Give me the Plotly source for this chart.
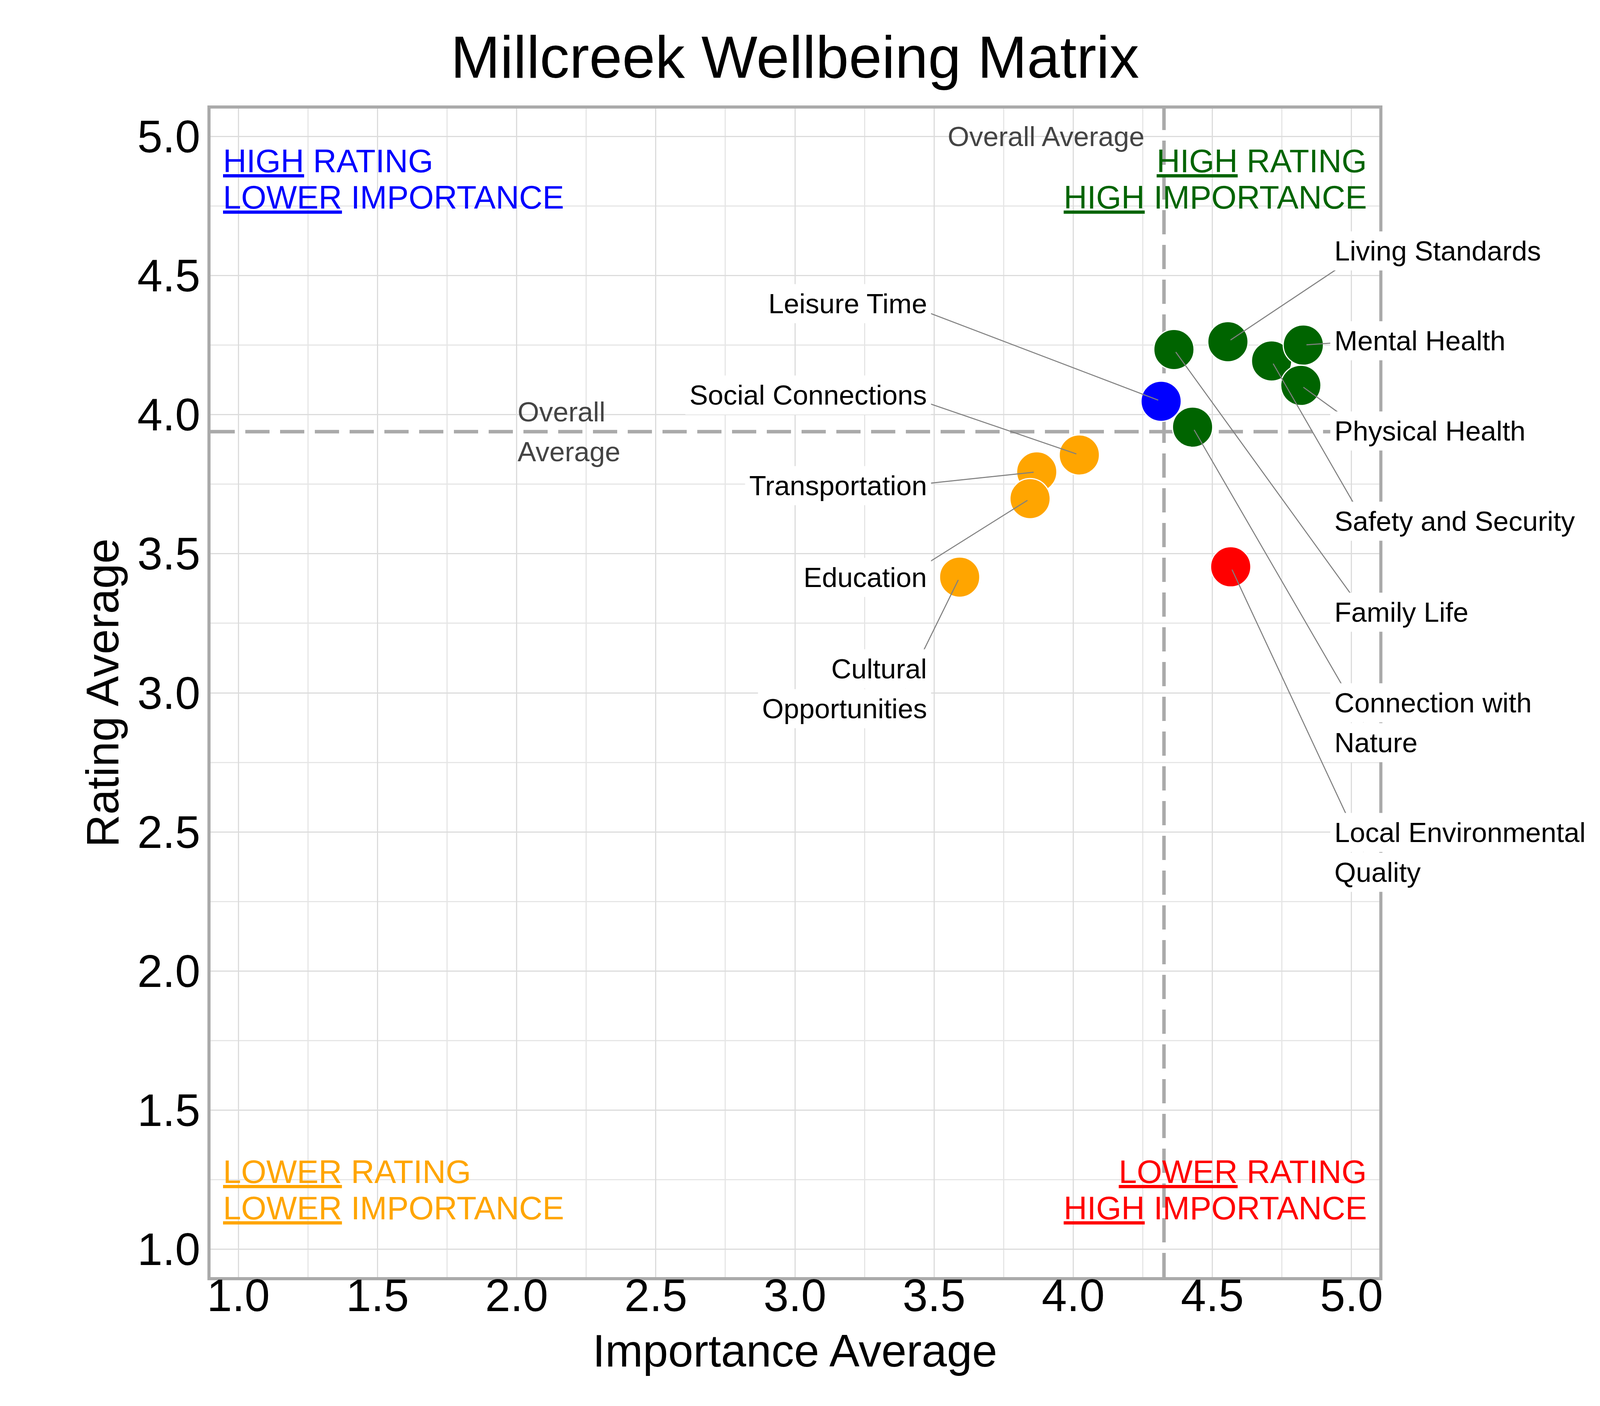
import numpy as np
import plotly.graph_objects as go

# wellbeing areas, importance (x) and rating (y) averages
areas = [
    "Living Standards", "Safety and Security", "Mental Health", "Physical Health",
    "Family Life", "Connection with Nature", "Local Environmental Quality",
    "Leisure Time", "Social Connections", "Transportation", "Education",
    "Cultural Opportunities",
]
importance = [4.556, 4.713, 4.827, 4.818, 4.362, 4.429, 4.566, 4.316, 4.022, 3.869, 3.845, 3.592]
rating = [4.262, 4.193, 4.250, 4.105, 4.234, 3.955, 3.453, 4.048, 3.855, 3.794, 3.698, 3.416]

# label lines and the height of each label box
label_lines = {
    "Connection with Nature": ["Connection with", "Nature"],
    "Local Environmental Quality": ["Local Environmental", "Quality"],
    "Cultural Opportunities": ["Cultural", "Opportunities"],
}
label_y = {
    "Living Standards": 4.588,
    "Mental Health": 4.265,
    "Physical Health": 3.941,
    "Safety and Security": 3.617,
    "Family Life": 3.290,
    "Connection with Nature": 2.892,
    "Local Environmental Quality": 2.426,
    "Leisure Time": 4.399,
    "Social Connections": 4.070,
    "Transportation": 3.744,
    "Education": 3.415,
    "Cultural Opportunities": 3.015,
}
# label box edges and where the leader lines end (hidden under the boxes)
RIGHT_BOX, RIGHT_TAIL = 4.923, 5.045
LEFT_BOX, LEFT_TAIL = 3.49, 3.395
LINE_GAP = 51  # px from the middle of a two-line label to each line

W, H = 4200, 3600

avg_x = np.mean(importance)
avg_y = np.mean(rating)


def quadrant_color(x, y):
    if x >= avg_x and y >= avg_y:
        return "darkgreen"
    if x < avg_x and y >= avg_y:
        return "blue"
    if x < avg_x and y < avg_y:
        return "orange"
    return "red"


colors = [quadrant_color(x, y) for x, y in zip(importance, rating)]

FONT = "Liberation Sans, Arial, sans-serif"

fig = go.Figure()

fig.add_trace(go.Scatter(
    x=importance, y=rating, mode="markers", text=areas,
    marker=dict(size=103, color=colors, line=dict(color="white", width=3)),
    hoverinfo="text", showlegend=False,
))

# overall average lines
avg_line = dict(color="#aaaaaa", width=9, dash="62px,27px")
fig.add_shape(type="line", xref="x", yref="paper", x0=avg_x, x1=avg_x, y0=0, y1=1,
              line=avg_line, layer="below")
fig.add_shape(type="line", xref="paper", yref="y", x0=0, x1=1, y0=avg_y, y1=avg_y,
              line=avg_line, layer="below")

for word, shift in [("Overall", LINE_GAP), ("Average", -LINE_GAP)]:
    fig.add_annotation(x=2.0, y=avg_y, yshift=shift, text=word, showarrow=False,
                       xanchor="left", yanchor="middle",
                       font=dict(size=71, color="#444444"))
fig.add_annotation(x=avg_x, y=5.0, text="Overall Average", showarrow=False,
                   xanchor="right", yanchor="middle", xshift=-48,
                   font=dict(size=71, color="#444444"))

# quadrant captions
quadrants = [
    ("blue", 0.01, "left", ["<u>HIGH</u> RATING", "<u>LOWER</u> IMPORTANCE"], [4.911, 4.781]),
    ("darkgreen", 0.99, "right", ["<u>HIGH</u> RATING", "<u>HIGH</u> IMPORTANCE"], [4.911, 4.781]),
    ("orange", 0.01, "left", ["<u>LOWER</u> RATING", "<u>LOWER</u> IMPORTANCE"], [1.279, 1.148]),
    ("red", 0.99, "right", ["<u>LOWER</u> RATING", "<u>HIGH</u> IMPORTANCE"], [1.279, 1.148]),
]
for color, qx, anchor, lines, ys in quadrants:
    for line, qy in zip(lines, ys):
        fig.add_annotation(x=qx, xref="paper", y=qy, yref="y", text=line,
                           showarrow=False, xanchor=anchor, yanchor="middle",
                           font=dict(size=83, color=color))

# leader lines first, then the white label boxes on top of their ends
for name, x, y in zip(areas, importance, rating):
    tail = RIGHT_TAIL if x >= avg_x else LEFT_TAIL
    fig.add_annotation(
        x=x, y=y, ax=tail, ay=label_y[name], axref="x", ayref="y",
        text="", showarrow=True, arrowhead=0, arrowwidth=2.7, arrowcolor="gray",
        standoff=8, font=dict(size=1),
    )
for name, x in zip(areas, importance):
    right_side = x >= avg_x
    lines = label_lines.get(name, [name])
    if len(lines) == 1:
        shifts = [0]
    else:
        shifts = [LINE_GAP, -LINE_GAP]
    for line, shift in zip(lines, shifts):
        fig.add_annotation(
            x=RIGHT_BOX if right_side else LEFT_BOX, y=label_y[name], yshift=shift,
            text=line, showarrow=False,
            xanchor="left" if right_side else "right", yanchor="middle",
            bgcolor="white", borderpad=10,
            font=dict(size=71, color="black"),
        )

axis_common = dict(
    range=[0.9, 5.1], tick0=1, dtick=0.5, tickformat=".1f",
    showline=True, linecolor="#aaaaaa", linewidth=8, mirror=True,
    showgrid=True, gridcolor="#dcdcdc", gridwidth=3,
    minor=dict(tick0=1, dtick=0.25, showgrid=True, gridcolor="#e6e6e6", gridwidth=2.5),
    zeroline=False, ticks="",
    tickfont=dict(size=116, color="black"),
)

fig.update_layout(
    width=W, height=H,
    title=dict(text="Millcreek Wellbeing Matrix", x=0.5, xref="paper", xanchor="center",
               y=1 - 137.5 / H, yref="container", yanchor="middle",
               font=dict(size=152, color="black")),
    font=dict(family=FONT, color="black"),
    plot_bgcolor="white", paper_bgcolor="white",
    margin=dict(l=531, r=677, t=270, b=338),
    xaxis=dict(axis_common, ticklabelstandoff=-60,
               title=dict(text="Importance Average", font=dict(size=116), standoff=40)),
    yaxis=dict(axis_common, ticklabelstandoff=-5,
               title=dict(text="Rating Average", font=dict(size=116), standoff=12)),
)

fig.write_html("out.html")
